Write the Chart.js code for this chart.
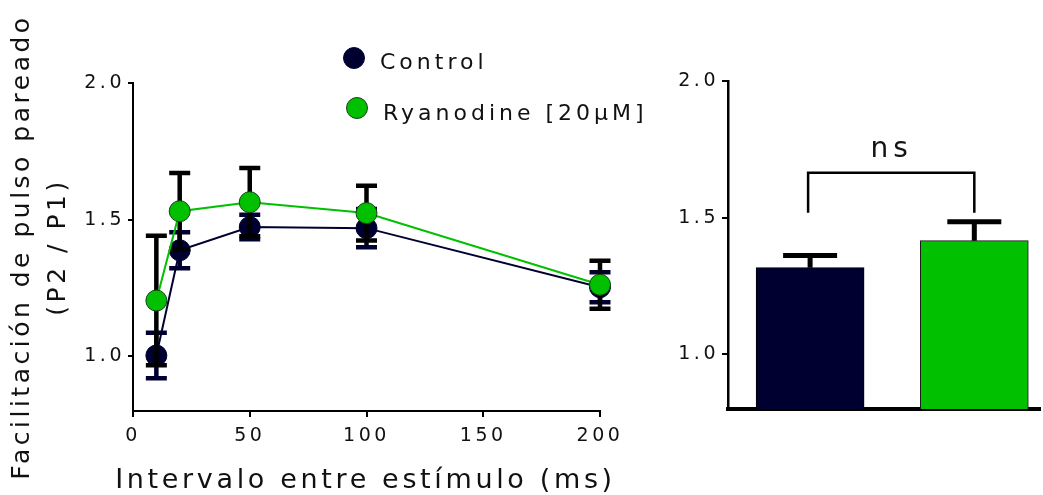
<!DOCTYPE html>
<html><head><meta charset="utf-8">
<script src="https://cdn.jsdelivr.net/npm/chart.js@4.4.0/dist/chart.umd.min.js"></script>
<style>
html,body{margin:0;padding:0;background:#fff;overflow:hidden;width:1043px;height:495px;}
#left{position:absolute;left:0;top:0;width:650px;height:495px;}
#right{position:absolute;left:650px;top:0;width:393px;height:495px;}
</style></head><body>
<canvas id="left" width="650" height="495"></canvas>
<canvas id="right" width="393" height="495"></canvas>
<script>
// ---- data ----
const intervals = [10, 20, 50, 100, 200];
const controlMean = [1.003, 1.388, 1.473, 1.469, 1.253];
const controlSem  = [0.083, 0.066, 0.045, 0.070, 0.055];
const ryanMean    = [1.204, 1.531, 1.564, 1.524, 1.262];
const ryanSem     = [0.237, 0.140, 0.125, 0.100, 0.088];
const seriesLabels = ['Control', 'Ryanodine [20\u03bcM]'];
const barMean = [1.317, 1.416];
const barSem  = [0.045, 0.069];
const yTicks = [1.0, 1.5, 2.0];
const xTicks = [0, 50, 100, 150, 200];
const xTitle = 'Intervalo entre estímulo (ms)';
const yTitle = ['Facilitación de pulso pareado', '(P2 / P1)'];
const sigLabel = 'ns';

const NAVY = '#000030';
const GREEN = '#00c000';
const FONT = '"DejaVu Sans", Verdana, sans-serif';
Chart.defaults.font.family = FONT;
Chart.defaults.color = '#111';

const spacingPlugin = { id: 'spacing', beforeDraw(chart) { chart.ctx.letterSpacing = '3.5px'; } };

function drawErrors(chart, args) {
  const ds = chart.data.datasets[args.index];
  if (!ds.errors) return;
  const ctx = chart.ctx, xs = chart.scales.x, ys = chart.scales.y;
  ctx.save();
  ctx.strokeStyle = ds.errorColor;
  ctx.lineWidth = ds.errorWidth;
  ctx.lineCap = 'butt';
  ds.data.forEach((p, i) => {
    const e = ds.errors[i];
    const px = xs.getPixelForValue(p.x);
    const yHi = ys.getPixelForValue(p.y + e);
    const yLo = ds.errorDir === 'up' ? ys.getPixelForValue(p.y) : ys.getPixelForValue(p.y - e);
    ctx.beginPath();
    ctx.moveTo(px, yLo); ctx.lineTo(px, yHi);
    ctx.moveTo(px - ds.capHalf, yHi); ctx.lineTo(px + ds.capHalf, yHi);
    if (ds.errorDir !== 'up') { ctx.moveTo(px - ds.capHalf, yLo); ctx.lineTo(px + ds.capHalf, yLo); }
    ctx.stroke();
  });
  ctx.restore();
}
const errorBeforePlugin = { id: 'errBefore', beforeDatasetDraw(chart, args) { if (chart.data.datasets[args.index].errorDir !== 'up') drawErrors(chart, args); } };
const errorAfterPlugin = { id: 'errAfter', afterDatasetDraw(chart, args) { if (chart.data.datasets[args.index].errorDir === 'up') drawErrors(chart, args); } };

const legendPlugin = {
  id: 'customLegend',
  afterDraw(chart) {
    const ctx = chart.ctx;
    const items = [{cx: 354, cy: 58, tx: 380, ty: 69}, {cx: 357, cy: 108, tx: 383, ty: 120}];
    ctx.save();
    ctx.font = '22px ' + FONT;
    ctx.letterSpacing = '4px';
    ctx.textBaseline = 'alphabetic';
    ctx.textAlign = 'left';
    chart.data.datasets.forEach((ds, i) => {
      const it = items[i];
      ctx.beginPath();
      ctx.arc(it.cx, it.cy, 10.5, 0, Math.PI * 2);
      ctx.fillStyle = ds.pointBackgroundColor;
      ctx.fill();
      ctx.lineWidth = 1;
      ctx.strokeStyle = ds.pointBorderColor;
      ctx.stroke();
      ctx.fillStyle = '#111';
      ctx.fillText(ds.label, it.tx, it.ty);
    });
    // x axis title (drawn without width compression)
    const xs = chart.scales.x;
    ctx.font = '27px ' + FONT;
    ctx.letterSpacing = '3.65px';
    ctx.textAlign = 'center';
    ctx.fillText(xTitle, (xs.left + xs.right) / 2 - 1, 488);
    ctx.restore();
  }
};

const bracketPlugin = {
  id: 'bracket',
  afterDraw(chart) {
    const {ctx, scales: {x, y}} = chart;
    const x1 = x.getPixelForValue(1) - 2, x2 = x.getPixelForValue(2);
    const yt = y.getPixelForValue(1.664), yb = y.getPixelForValue(1.518);
    ctx.save();
    ctx.strokeStyle = '#000';
    ctx.lineWidth = 2.5;
    ctx.beginPath();
    ctx.moveTo(x1, yb); ctx.lineTo(x1, yt); ctx.lineTo(x2, yt); ctx.lineTo(x2, yb);
    ctx.stroke();
    ctx.font = '28px ' + FONT;
    ctx.letterSpacing = '5px';
    ctx.textAlign = 'center';
    ctx.textBaseline = 'alphabetic';
    ctx.fillStyle = '#111';
    ctx.fillText(sigLabel, (x1 + x2) / 2 + 0.5, y.getPixelForValue(1.723));
    ctx.restore();
  }
};

const axisGrid = (len) => ({display: true, drawOnChartArea: false, drawTicks: true, tickLength: len, color: '#000', lineWidth: 2});

new Chart(document.getElementById('left'), {
  type: 'line',
  data: {
    datasets: [
      {
        label: seriesLabels[0],
        data: intervals.map((x, i) => ({x, y: controlMean[i]})),
        errors: controlSem, errorColor: NAVY, errorWidth: 4.5, capHalf: 10.5, errorDir: 'both',
        borderColor: NAVY, backgroundColor: NAVY, borderWidth: 2,
        pointBackgroundColor: NAVY, pointBorderColor: NAVY, pointRadius: 10.5, pointBorderWidth: 1,
        tension: 0, clip: false, order: 2
      },
      {
        label: seriesLabels[1],
        data: intervals.map((x, i) => ({x, y: ryanMean[i]})),
        errors: ryanSem, errorColor: '#000', errorWidth: 4.5, capHalf: 10.5, errorDir: 'both',
        borderColor: GREEN, backgroundColor: GREEN, borderWidth: 2,
        pointBackgroundColor: GREEN, pointBorderColor: '#14401a', pointRadius: 10.5, pointBorderWidth: 1,
        tension: 0, clip: false, order: 1
      }
    ]
  },
  options: {
    responsive: false, animation: false,
    layout: {padding: {left: 0, top: 83, right: 50, bottom: 0}},
    plugins: {legend: {display: false}, tooltip: {enabled: false}},
    scales: {
      x: {
        type: 'linear', min: 0, max: 200,
        afterBuildTicks: s => { s.ticks = xTicks.map(v => ({value: v})); },
        afterFit: s => { s.height = 84; },
        grid: axisGrid(6),
        border: {display: true, color: '#000', width: 2},
        ticks: {font: {size: 19}, padding: 8, maxRotation: 0, autoSkip: false, color: '#111'},
        title: {display: false}
      },
      y: {
        type: 'linear', min: 0.8, max: 2.0,
        afterBuildTicks: s => { s.ticks = yTicks.map(v => ({value: v})); },
        afterFit: s => { s.width = 133; },
        grid: axisGrid(5),
        border: {display: true, color: '#000', width: 2},
        ticks: {font: {size: 19}, padding: 3, color: '#111', callback: v => Number(v).toFixed(1)},
        title: {display: true, text: yTitle, font: {size: 25, lineHeight: 36 / 25}, color: '#111', padding: {top: 4, bottom: 0}}
      }
    }
  },
  plugins: [spacingPlugin, errorBeforePlugin, legendPlugin]
});

new Chart(document.getElementById('right'), {
  type: 'bar',
  data: {
    datasets: [{
      label: 'PPF',
      data: barMean.map((v, i) => ({x: i + 1, y: v})),
      errors: barSem, errorColor: '#000', errorWidth: 5, capHalf: 27, errorDir: 'up',
      backgroundColor: [NAVY, GREEN], borderColor: ['#000', '#1a1a1a'], borderWidth: 1,
      barThickness: 108, borderSkipped: 'start'
    }]
  },
  options: {
    responsive: false, animation: false,
    layout: {padding: {left: 0, top: 81, right: 3, bottom: 0}},
    plugins: {legend: {display: false}, tooltip: {enabled: false}},
    scales: {
      x: {
        type: 'linear', min: 0.5, max: 2.4, offset: false,
        ticks: {display: false}, grid: {display: false, offset: false},
        border: {display: true, color: '#000', width: 4},
        afterFit: s => { s.height = 86; }
      },
      y: {
        type: 'linear', min: 0.8, max: 2.0,
        afterBuildTicks: s => { s.ticks = yTicks.map(v => ({value: v})); },
        afterFit: s => { s.width = 78; },
        grid: axisGrid(6),
        border: {display: true, color: '#000', width: 2.5},
        ticks: {font: {size: 19}, padding: 3, color: '#111', callback: v => Number(v).toFixed(1)}
      }
    }
  },
  plugins: [spacingPlugin, errorAfterPlugin, bracketPlugin]
});
</script>
</body></html>
